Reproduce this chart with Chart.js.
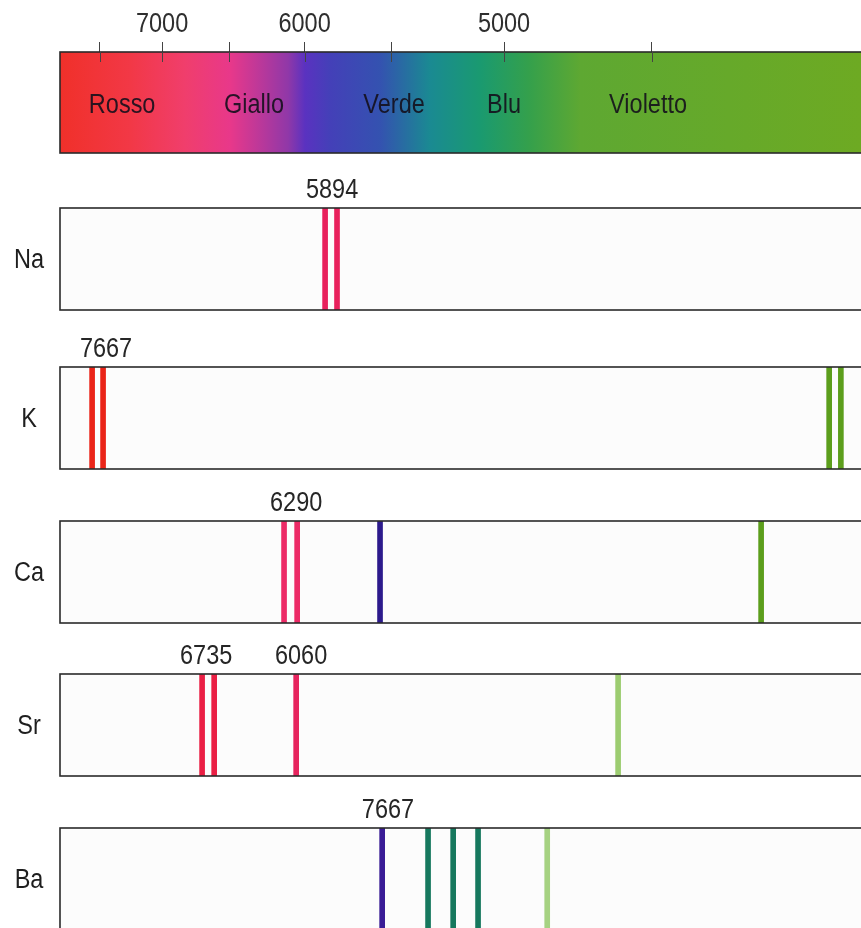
<!DOCTYPE html>
<html lang="it">
<head>
<meta charset="UTF-8" />
<title>Spettri di emissione</title>
<script src="https://cdn.jsdelivr.net/npm/chart.js"></script>
<style>
  html, body { margin: 0; padding: 0; background: #fff; overflow: hidden; }
  #wrap { position: relative; width: 861px; height: 928px; overflow: hidden; }
  #wrap canvas { position: absolute; left: 0; }
</style>
</head>
<body>
<div id="wrap">
  <canvas id="spectrum" width="880" height="156" style="top:0"></canvas>
  <canvas id="row0" width="880" height="157"></canvas>
  <canvas id="row1" width="880" height="157"></canvas>
  <canvas id="row2" width="880" height="157"></canvas>
  <canvas id="row3" width="880" height="157"></canvas>
  <canvas id="row4" width="880" height="157"></canvas>
</div>
<script>
// wavelengths in Angstrom
const tickWavelengths = [7550, 7000, 6490, 6000, 5520, 5000, 4450];
const tickLabels = ["", "7000", "", "6000", "", "5000", ""];
const bandNames = ["Rosso", "Giallo", "Verde", "Blu", "Violetto"];
const bandWavelengths = [7343, 6320, 5506, 5000, 4463];

const elements = ["Na", "K", "Ca", "Sr", "Ba"];

const naLines = [5879, 5811];
const kLines = [7624, 7519, 3932, 3902];
const caLines = [6126, 6045, 5578, 4116];
const srLines = [6687, 6598, 6051, 4565];
const baLines = [5567, 5339, 5222, 5111, 4826];

const naColors = ["#e8215c", "#e8215c"];
const kColors = ["#ea2418", "#ea2418", "#5c9e1c", "#5c9e1c"];
const caColors = ["#ec2a66", "#ec2a66", "#2c1a8c", "#5c9e1c"];
const srColors = ["#ea1f44", "#ea1f44", "#e6245e", "#9ccc70"];
const baColors = ["#3a1c96", "#16785e", "#16785e", "#16785e", "#a6d282"];

const naNotes = ["5894"], naNoteAt = [5839];
const kNotes = ["7667"], kNoteAt = [7491];
const caNotes = ["6290"], caNoteAt = [6051];
const srNotes = ["6735", "6060"], srNoteAt = [6657, 6021];
const baNotes = ["7667"], baNoteAt = [5537];

// spectrum colour stops (wavelength, colour)
const stopWavelengths = [7948, 7272, 6817, 6484, 6300, 6100, 5997, 5850, 5578, 5329, 5102, 4900, 4700, 3814];
const stopColors = ["#f0302a", "#f23846", "#f03e6c", "#e8388a", "#c03898", "#9038a8", "#5a32c0", "#4440b8",
                    "#3452b0", "#1a8a92", "#1a9a70", "#34a04c", "#5ea832", "#6eaa22"];

const rows = [
  { lines: naLines, colors: naColors, notes: naNotes, at: naNoteAt },
  { lines: kLines, colors: kColors, notes: kNotes, at: kNoteAt },
  { lines: caLines, colors: caColors, notes: caNotes, at: caNoteAt },
  { lines: srLines, colors: srColors, notes: srNotes, at: srNoteAt },
  { lines: baLines, colors: baColors, notes: baNotes, at: baNoteAt },
];

const FONT = "27px 'Liberation Sans', Arial, sans-serif";
const toWn = w => 1e8 / w;   // axis runs in wavenumber
const X_MIN = 12580, X_MAX = 26215;

// condensed text, like the printed figure
function narrowText(ctx, text, x, y, color) {
  ctx.save();
  ctx.font = FONT;
  ctx.fillStyle = color;
  ctx.textAlign = "center";
  ctx.textBaseline = "alphabetic";
  ctx.translate(x, y);
  ctx.scale(0.87, 1);
  ctx.fillText(text, 0, 0);
  ctx.restore();
}

const spectroPlugin = {
  id: "spectro",
  beforeDatasetsDraw(chart, args, opts) {
    const { ctx, chartArea: a, scales } = chart;
    ctx.save();
    if (opts.gradient) {
      const g = ctx.createLinearGradient(a.left, 0, a.right, 0);
      stopWavelengths.forEach((w, i) => {
        const p = (scales.x.getPixelForValue(toWn(w)) - a.left) / (a.right - a.left);
        g.addColorStop(Math.min(1, Math.max(0, p)), stopColors[i]);
      });
      ctx.fillStyle = g;
    } else {
      ctx.fillStyle = "#fcfcfc";
    }
    ctx.fillRect(a.left, a.top, a.right - a.left, a.bottom - a.top);
    ctx.restore();
  },
  afterDatasetsDraw(chart, args, opts) {
    const { ctx, chartArea: a, scales } = chart;
    ctx.save();
    ctx.strokeStyle = "#2a2a2a";
    ctx.lineWidth = 1.6;
    ctx.strokeRect(a.left, a.top, a.right - a.left, a.bottom - a.top);
    if (opts.gradient) {
      // inner half of the tick marks + the labels above them
      ctx.strokeStyle = "#444";
      ctx.lineWidth = 1;
      scales.x.ticks.forEach((t, i) => {
        const px = scales.x.getPixelForValue(t.value);
        const x = Math.round(px) + 0.5;
        ctx.beginPath();
        ctx.moveTo(x, a.top);
        ctx.lineTo(x, a.top + 10);
        ctx.stroke();
        if (tickLabels[i]) narrowText(ctx, tickLabels[i], px, 32, "#2e2e2e");
      });
      bandNames.forEach((n, i) => {
        narrowText(ctx, n, scales.x.getPixelForValue(toWn(bandWavelengths[i])), a.top + 61, "rgba(20,16,28,0.9)");
      });
    }
    if (opts.label) narrowText(ctx, opts.label, 29, a.top + 60, "#1e1e1e");
    (opts.notes || []).forEach((n, i) => {
      narrowText(ctx, n, scales.x.getPixelForValue(toWn(opts.at[i])), a.top - 10, "#262626");
    });
    ctx.restore();
  }
};

function baseX(display) {
  return {
    type: "linear",
    min: X_MIN,
    max: X_MAX,
    offset: false,
    display: display,
  };
}

// spectrum band with the wavelength ticks on top
new Chart(document.getElementById("spectrum"), {
  type: "bar",
  data: { datasets: [] },
  options: {
    responsive: false,
    animation: false,
    events: [],
    layout: { padding: { left: 60, right: 4, top: 0, bottom: 3 } },
    plugins: { legend: { display: false }, tooltip: { enabled: false }, spectro: { gradient: true } },
    scales: {
      x: Object.assign(baseX(true), {
        position: "top",
        afterBuildTicks: s => { s.ticks = tickWavelengths.map(w => ({ value: toWn(w) })); },
        afterFit: s => { s.height = 52; },
        border: { display: false },
        grid: { offset: false, drawOnChartArea: false, drawTicks: true, tickLength: 10, color: "#444", lineWidth: 1 },
        ticks: { display: false, autoSkip: false },
      }),
      y: { display: false, min: 0, max: 1 },
    },
  },
  plugins: [spectroPlugin],
});

const panelTops = [208, 367, 521, 674, 828];

rows.forEach((r, k) => {
  const cv = document.getElementById("row" + k);
  cv.style.top = (panelTops[k] - 52) + "px";
  new Chart(cv, {
    type: "bar",
    data: {
      datasets: [{
        data: r.lines.map(w => ({ x: toWn(w), y: 1 })),
        backgroundColor: r.colors,
        borderWidth: 0,
        barThickness: 5,
      }],
    },
    options: {
      responsive: false,
      animation: false,
      events: [],
      layout: { padding: { left: 60, right: 4, top: 52, bottom: 3 } },
      plugins: {
        legend: { display: false },
        tooltip: { enabled: false },
        spectro: { label: elements[k], notes: r.notes, at: r.at },
      },
      scales: {
        x: baseX(false),
        y: { display: false, min: 0, max: 1 },
      },
    },
    plugins: [spectroPlugin],
  });
});
</script>
</body>
</html>
